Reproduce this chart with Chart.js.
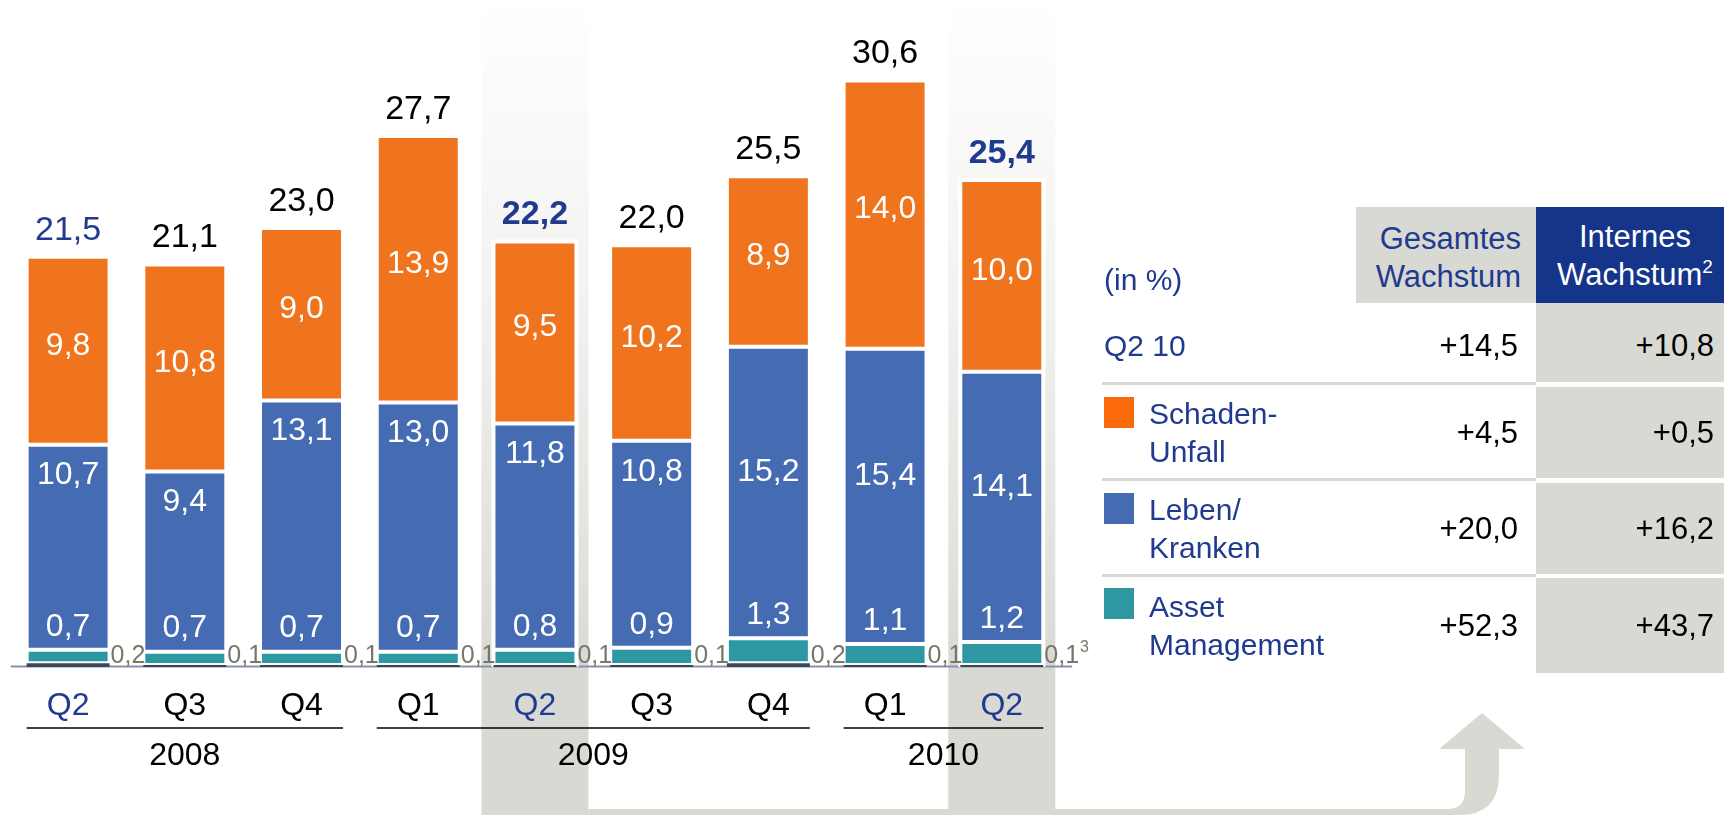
<!DOCTYPE html>
<html><head><meta charset="utf-8">
<script src="https://cdn.jsdelivr.net/npm/chart.js@4.4.1/dist/chart.umd.min.js"></script>
<style>
html,body{margin:0;padding:0;background:#fff;}
#wrap{position:relative;width:1724px;height:815px;overflow:hidden;font-family:"Liberation Sans",Arial,Helvetica,sans-serif;}
#c{position:absolute;left:0;top:0;}
.abs{position:absolute;box-sizing:border-box;}
.flexc{display:flex;align-items:center;}
</style></head>
<body><div id="wrap"><canvas id="c" width="1724" height="815"></canvas></div>
<script>
// ---------------- data ----------------
const quarters = ['Q2','Q3','Q4','Q1','Q2','Q3','Q4','Q1','Q2'];
const years = ['2008','2009','2010'];
const yearOfBar = ['2008','2008','2008','2009','2009','2009','2009','2010','2010'];
const konsolidierung = [0.2,0.1,0.1,0.1,0.1,0.1,0.2,0.1,0.1];
const assetManagement = [0.7,0.7,0.7,0.7,0.8,0.9,1.3,1.1,1.2];
const lebenKranken = [10.7,9.4,13.1,13.0,11.8,10.8,15.2,15.4,14.1];
const schadenUnfall = [9.8,10.8,9.0,13.9,9.5,10.2,8.9,14.0,10.0];
const totals = [21.5,21.1,23.0,27.7,22.2,22.0,25.5,30.6,25.4];
const highlighted = [4,8];          // Q2 09, Q2 10 (shaded columns, bold totals)
const blueQuarter = [0,4,8];        // quarter labels / totals in blue
const blueLabelPlacement = ['upper','upper','upper','upper','upper','upper','center','center','center'];

const tableLabels = [['Q2 10'],['Schaden-','Unfall'],['Leben/','Kranken'],['Asset','Management']];
const gesamtesWachstum = [14.5,4.5,20.0,52.3];
const internesWachstum = [10.8,0.5,16.2,43.7];

// ---------------- styles ----------------
const C_ORANGE = '#f0731e', C_BLUE = '#456bb3', C_TEAL = '#2d97a2', C_KONS = '#3c4756';
const C_GREY = '#d9d9d4', C_DARKBLUE = '#14358a', C_TEXTBLUE = '#1f3a8f';
const FONT = '"Liberation Sans", Arial, Helvetica, sans-serif';
const fmt = v => v.toFixed(1).replace('.', ',');
const fmtPlus = v => '+' + fmt(v);

// ---------------- table (HTML text) ----------------
const wrap = document.getElementById('wrap');
function el(css, html, cls){ const d=document.createElement('div'); d.className='abs '+(cls||''); d.style.cssText=css; if(html!==undefined) d.innerHTML=html; wrap.appendChild(d); return d; }

el('left:1104px;top:262px;height:36px;font-size:30px;line-height:36px;color:'+C_TEXTBLUE+';', '(in %)');
el('left:1356px;top:207px;width:180px;height:96px;background:'+C_GREY+';padding:6px 15px 0 0;font-size:31px;line-height:38px;text-align:right;color:'+C_TEXTBLUE+';display:flex;flex-direction:column;justify-content:center;', '<div>Gesamtes</div><div>Wachstum</div>');
el('left:1536px;top:207px;width:188px;height:96px;background:'+C_DARKBLUE+';padding:6px 0 0 10px;font-size:31px;line-height:38px;text-align:center;color:#fff;display:flex;flex-direction:column;justify-content:center;', '<div>Internes</div><div>Wachstum<span style="font-size:19px;position:relative;top:-12px;">2</span></div>');

const rowTops = [303,387,483,578], rowBottoms = [382,478,574,673];
const swatches = [null, '#fa6a0a', C_BLUE, C_TEAL];
tableLabels.forEach((lines, r) => {
  const top = rowTops[r], h = rowBottoms[r]-rowTops[r];
  const sw = swatches[r];
  if (sw) el('left:1104px;top:'+(top+10)+'px;width:30px;height:31px;background:'+sw+';');
  el('left:'+(sw?1149:1104)+'px;top:'+top+'px;height:'+h+'px;font-size:30px;line-height:38px;color:'+C_TEXTBLUE+';padding-top:'+(r===0?6:0)+'px;', '<div>'+lines.join('<br>')+'</div>', 'flexc');
  el('left:1356px;top:'+top+'px;width:162px;height:'+h+'px;font-size:31px;color:#000;justify-content:flex-end;padding-top:'+(r===0?6:0)+'px;', fmtPlus(gesamtesWachstum[r]), 'flexc');
  el('left:1536px;top:'+top+'px;width:188px;height:'+h+'px;background:'+C_GREY+';font-size:31px;color:#000;justify-content:flex-end;padding-right:10px;padding-top:'+(r===0?6:0)+'px;', fmtPlus(internesWachstum[r]), 'flexc');
  if (r < tableLabels.length-1) el('left:1102px;top:'+rowBottoms[r]+'px;width:434px;height:3px;background:'+C_GREY+';');
});

// ---------------- plugins ----------------
const backdrop = {
  id:'backdrop',
  beforeDraw(chart){
    const {ctx, chartArea:a, scales:{x}} = chart;
    const cat = x.width / quarters.length;
    ctx.save();
    highlighted.forEach(i => {
      const cx = x.getPixelForValue(i), hw = cat*0.4585;
      const g = ctx.createLinearGradient(0,0,0,a.bottom);
      g.addColorStop(0,'rgba(217,217,212,0)');
      g.addColorStop(0.45,'rgba(217,217,212,0.35)');
      g.addColorStop(0.85,'rgba(217,217,212,0.8)');
      g.addColorStop(1,'rgba(217,217,212,1)');
      ctx.fillStyle = g; ctx.fillRect(cx-hw, 0, hw*2, a.bottom);
      ctx.fillStyle = C_GREY; ctx.fillRect(cx-hw, a.bottom, hw*2, chart.height-a.bottom);
    });
    // connector along the bottom into the arrow
    const x0 = x.getPixelForValue(highlighted[0]) + cat*0.4585;
    const H = chart.height;
    ctx.fillStyle = C_GREY;
    ctx.beginPath();
    ctx.moveTo(x0, H-6);
    ctx.lineTo(1447, H-6);
    ctx.quadraticCurveTo(1465, H-6, 1465, H-24);
    ctx.lineTo(1465, 749);
    ctx.lineTo(1439, 749);
    ctx.lineTo(1482, 713);
    ctx.lineTo(1525, 749);
    ctx.lineTo(1499, 749);
    ctx.lineTo(1499, H-40);
    ctx.quadraticCurveTo(1499, H, 1459, H);
    ctx.lineTo(x0, H);
    ctx.closePath(); ctx.fill();
    // baseline
    ctx.strokeStyle = '#8494b0'; ctx.lineWidth = 2;
    ctx.beginPath(); ctx.moveTo(a.left+1, a.bottom-0.5); ctx.lineTo(a.right+12, a.bottom-0.5); ctx.stroke();
    ctx.restore();
  },
  beforeDatasetsDraw(chart){
    const {ctx} = chart;
    const top = chart.getDatasetMeta(3).data, bot = chart.getDatasetMeta(0).data;
    ctx.save(); ctx.fillStyle = '#fff';
    highlighted.forEach(i => {
      const e = top[i], w = e.width;
      ctx.fillRect(e.x - w/2 - 2, e.y - 2, w + 4, bot[i].base - e.y + 2);
    });
    ctx.restore();
  },
  afterDraw(chart){
    const {ctx} = chart;
    const bars = chart.getDatasetMeta(3).data;
    ctx.save();
    years.forEach(y => {
      const idx = yearOfBar.map((v,i)=>v===y?i:-1).filter(i=>i>=0);
      const f = bars[idx[0]], l = bars[idx[idx.length-1]];
      const x1 = f.x - f.width/2, x2 = l.x + l.width/2;
      ctx.strokeStyle = '#000'; ctx.lineWidth = 1.5;
      ctx.beginPath(); ctx.moveTo(x1, 728); ctx.lineTo(x2, 728); ctx.stroke();
      ctx.fillStyle = '#000'; ctx.font = '32px '+FONT; ctx.textAlign='center'; ctx.textBaseline='middle';
      ctx.fillText(y, (x1+x2)/2, 756);
    });
    ctx.restore();
  }
};

const valueLabels = {
  id:'valueLabels',
  afterDatasetsDraw(chart){
    const {ctx} = chart;
    const mK = chart.getDatasetMeta(0).data, mA = chart.getDatasetMeta(1).data,
          mL = chart.getDatasetMeta(2).data, mS = chart.getDatasetMeta(3).data;
    ctx.save();
    quarters.forEach((q,i) => {
      ctx.textAlign = 'center';
      // Schaden-Unfall
      const s = mS[i];
      ctx.fillStyle = '#fff'; ctx.font = '32px '+FONT; ctx.textBaseline='middle';
      ctx.fillText(fmt(schadenUnfall[i]), s.x, (s.y + s.base)/2 - 5);
      // Leben/Kranken
      const l = mL[i];
      const ly = blueLabelPlacement[i]==='upper' ? l.y + 31 : (l.y + l.base)/2 - 20;
      ctx.fillText(fmt(lebenKranken[i]), l.x, ly);
      // Asset Management (label above the teal strip)
      const am = mA[i];
      ctx.fillText(fmt(assetManagement[i]), am.x, am.y - 23);
      // Konsolidierung (grey, right of bar)
      const k = mK[i];
      ctx.fillStyle = '#77776a'; ctx.font = '25px '+FONT; ctx.textAlign='left'; ctx.textBaseline='alphabetic';
      const kx = k.x + k.width/2 + 1;
      const kt = fmt(konsolidierung[i]);
      ctx.fillText(kt, kx, 663);
      if (i === quarters.length-1) {
        const w = ctx.measureText(kt).width;
        ctx.font = '16px '+FONT; ctx.fillText('3', kx + w + 1, 652);
      }
      // totals
      ctx.textAlign='center';
      const hl = highlighted.includes(i), bl = blueQuarter.includes(i);
      ctx.fillStyle = bl ? C_TEXTBLUE : '#000';
      ctx.font = (hl ? 'bold ' : '') + '34px '+FONT;
      ctx.fillText(fmt(totals[i]), s.x, s.y - 17);
    });
    ctx.restore();
  }
};

// ---------------- chart ----------------
const common = {borderColor:'#fff', borderWidth:2, borderSkipped:false, barPercentage:0.711, categoryPercentage:1};
new Chart(document.getElementById('c'), {
  type:'bar',
  data:{
    labels: quarters,
    datasets:[
      {label:'Konsolidierung', data:konsolidierung, backgroundColor:C_KONS, borderWidth:0, barPercentage:0.711, categoryPercentage:1},
      Object.assign({label:'Asset Management', data:assetManagement, backgroundColor:C_TEAL}, common),
      Object.assign({label:'Leben/Kranken', data:lebenKranken, backgroundColor:C_BLUE}, common),
      Object.assign({label:'Schaden-Unfall', data:schadenUnfall, backgroundColor:C_ORANGE}, common)
    ]
  },
  options:{
    responsive:false, animation:false, devicePixelRatio:1,
    layout:{padding:{left:9.75, right:663.85, top:34.4, bottom:0}},
    plugins:{legend:{display:false}, tooltip:{enabled:false}},
    scales:{
      x:{stacked:true, grid:{display:false, drawTicks:false}, border:{display:false},
         ticks:{font:{family:FONT, size:32}, padding:20,
                color:c => blueQuarter.includes(c.index) ? C_TEXTBLUE : '#000'},
         afterFit:s => { s.height = 148; }},
      y:{stacked:true, display:false, min:0, max:33}
    }
  },
  plugins:[backdrop, valueLabels]
});
</script></body></html>
